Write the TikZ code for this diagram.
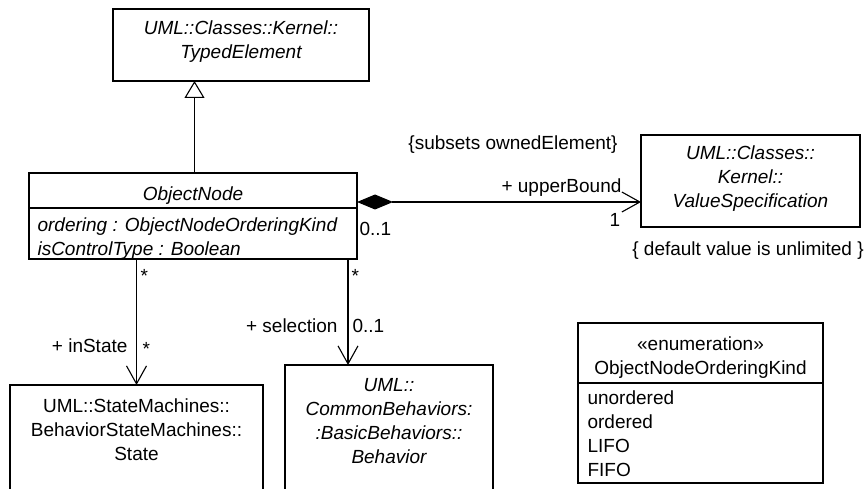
\documentclass[tikz,border=0pt]{standalone}
\usepackage{fontspec}
\setmainfont{Liberation Sans}
\usetikzlibrary{positioning,arrows.meta}

\begin{document}
\begin{tikzpicture}[
  x=1pt, y=-1pt, line width=1.1pt,
  cls/.style={draw, rectangle, inner sep=0pt, outer sep=0pt, anchor=north west},
  txt/.style={inner sep=0pt, align=center, font=\fontsize{19}{24}\selectfont},
  itxt/.style={txt, font=\fontsize{19}{24}\selectfont\itshape},
  gen/.style={-{Triangle[open, length=17pt, width=20pt]}},
  comp/.style={{Diamond[length=36pt, width=15pt]}-{Straight Barb[length=18pt, width=20pt]}},
  nav/.style={-{Straight Barb[length=18pt, width=20pt]}},
]
  \useasboundingbox (0,0) rectangle (865,489);
  \clip (0,0) rectangle (865,489);

  % class boxes
  \node[cls, minimum width=256pt, minimum height=72pt] (typed) at (113,9) {};
  \node[itxt, below=11pt of typed.north] (typedname) {UML::Classes::Kernel::\\TypedElement};

  \node[cls, minimum width=328pt, minimum height=86pt] (objnode) at (29,173) {};
  \node[itxt, below=13pt of objnode.north] (objname) {ObjectNode};
  \coordinate (objsep) at ([yshift=-35pt]objnode.north west);
  \draw (objsep) -- ([yshift=-35pt]objnode.north east);
  \node[itxt, align=left, below right=9pt and 8pt of objsep] (objattr)
    {ordering : ObjectNodeOrderingKind\\isControlType : Boolean};

  \node[cls, minimum width=219pt, minimum height=92pt] (valspec) at (641,135) {};
  \node[itxt, below=10pt of valspec.north] (valname) {UML::Classes::\\Kernel::\\ValueSpecification};

  \node[cls, minimum width=253pt, minimum height=140pt] (state) at (10,385) {};
  \node[txt, below=13pt of state.north] (statename)
    {UML::StateMachines::\\BehaviorStateMachines::\\State};

  \node[cls, minimum width=208pt, minimum height=160pt] (behavior) at (285,365) {};
  \node[itxt, below=13pt of behavior.north] (behname)
    {UML::\\CommonBehaviors:\\:BasicBehaviors::\\Behavior};

  \node[cls, minimum width=245pt, minimum height=160pt] (enum) at (578,323) {};
  \node[txt, below=13pt of enum.north] (enumname) {«enumeration»\\ObjectNodeOrderingKind};
  \coordinate (enumsep) at ([yshift=-60pt]enum.north west);
  \draw (enumsep) -- ([yshift=-60pt]enum.north east);
  \node[txt, align=left, below right=7pt and 9pt of enumsep] (enumlits)
    {unordered\\ordered\\LIFO\\FIFO};

  % relations
  \draw[gen] ([xshift=1.5pt]objnode.north) -- ([xshift=1.5pt]objnode.north |- typed.south);
  \draw[comp] ([yshift=14pt]objnode.east) -- ([yshift=14pt]objnode.east -| valspec.west);
  \draw[nav] (state.north |- objnode.south) -- (state.north);
  \draw[nav] ([xshift=-9pt]objnode.south east) -- ([xshift=-9pt]objnode.south east |- behavior.north);

  % association labels
  \node[txt, anchor=base] (subsets) at (513,150) {\{subsets ownedElement\}};
  \node[txt, anchor=base east] (upper) at (622,193) {+ upperBound};
  \node[txt, anchor=base] (upmult) at (615,227) {1};
  \node[txt, anchor=base west] (ownmult) at (359,236) {0..1};
  \node[txt, anchor=base] (defval) at (748,256) {\{ default value is unlimited \}};
  \node[txt, anchor=base west] (srcstar) at (140,282) {*};
  \node[txt, anchor=base east] (instate) at (128,352) {+ inState};
  \node[txt, anchor=base west] (instmult) at (142,355) {*};
  \node[txt, anchor=base west] (selstar) at (351,282) {*};
  \node[txt, anchor=base east] (selection) at (338,332) {+ selection};
  \node[txt, anchor=base west] (selmult) at (352,332) {0..1};
\end{tikzpicture}
\end{document}
